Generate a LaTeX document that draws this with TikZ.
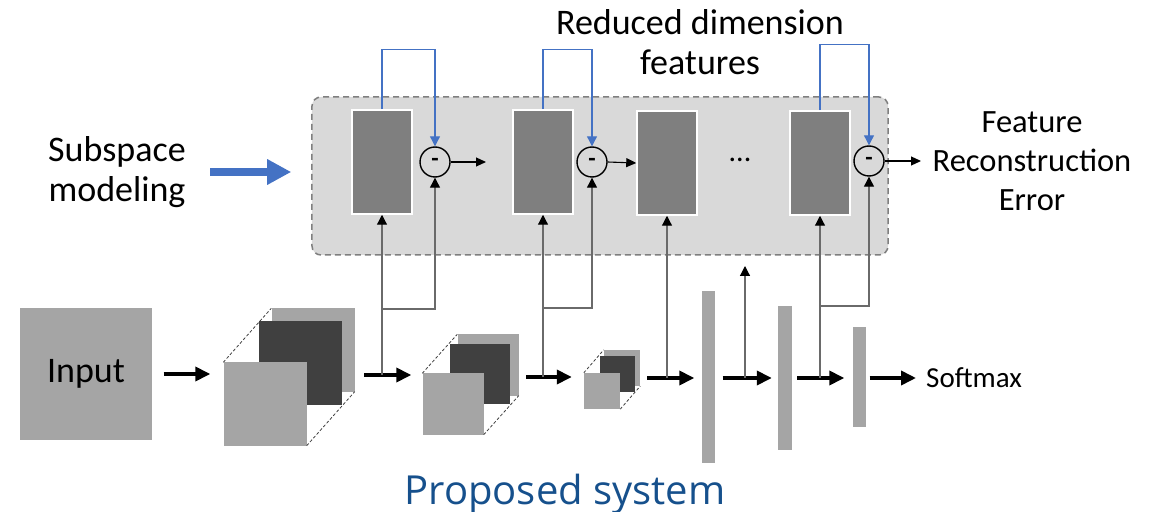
\documentclass[tikz,border=0pt]{standalone}
\usepackage{fontspec}
\setmainfont{Carlito}
\newfontfamily\captionfont{Open Sans}
\usetikzlibrary{arrows.meta}

\definecolor{panelgray}{HTML}{D9D9D9}
\definecolor{paneledge}{HTML}{7F7F7F}
\definecolor{featgray}{HTML}{7F7F7F}
\definecolor{lightsq}{HTML}{A5A5A5}
\definecolor{darksq}{HTML}{404040}
\definecolor{linkgray}{HTML}{6A6A6A}
\definecolor{fbblue}{HTML}{4472C4}
\definecolor{capblue}{HTML}{16508C}

\tikzset{
  featbox/.style={draw=white, line width=1.5bp, fill=featgray, minimum width=60bp, minimum height=104bp, inner sep=0pt},
  diffnode/.style={circle, draw=black, line width=1.4bp, minimum size=30bp, inner sep=0pt, font=\fontsize{24bp}{24bp}\selectfont\bfseries},
  lightsquare/.style={fill=lightsq, draw=none, inner sep=0pt},
  darksquare/.style={fill=darksq, draw=none, inner sep=0pt},
  barnode/.style={fill=lightsq, draw=none, inner sep=0pt, minimum width=13bp},
  cubeedge/.style={draw=darksq, dashed, dash pattern=on 3bp off 2bp, line width=0.8bp},
  bigarrow/.style={line width=3.6bp, -{Triangle[length=15bp, width=14bp]}},
  link/.style={draw=linkgray, line width=1.2bp},
  linkarrow/.style={link, -{Triangle[length=10bp, width=10bp, color=black]}},
  fbline/.style={draw=fbblue, line width=1.1bp, -{Triangle[length=10bp, width=10bp]}},
  outarrow/.style={draw=black, line width=1.1bp, -{Triangle[length=10bp, width=9bp]}},
  bigtext/.style={font=\fontsize{36bp}{40bp}\selectfont, align=center, inner sep=0pt},
  midtext/.style={font=\fontsize{32.5bp}{39bp}\selectfont, align=center, inner sep=0pt},
}

\begin{document}
\begin{tikzpicture}[x=1bp, y=-1bp]
\useasboundingbox (0,0) rectangle (1160,512);

% subspace modeling panel
\node[fill=panelgray, draw=paneledge, line width=1.5bp, dashed, dash pattern=on 6bp off 4bp,
      rounded corners=9bp, minimum width=576bp, minimum height=158bp] (panel) at (600,176) {};

% reduced-dimension feature blocks
\node[featbox] (r1) at (382,162) {};
\node[featbox] (r2) at (543,162) {};
\node[featbox] (r3) at (667,163) {};
\node[featbox] (r4) at (820,163) {};
\node[font=\fontsize{30bp}{30bp}\selectfont, inner sep=0pt] (dots) at (740,160) {...};

% subtraction nodes
\node[diffnode] (c1) at (435,162) {-};
\node[diffnode] (c2) at (592,162) {-};
\node[diffnode] (c3) at (869,161) {-};

% reconstruction feedback (blue)
\draw[fbline] (r1.north) -- ++(0,-60) -| (c1.north);
\draw[fbline] (r2.north) -- ++(0,-60) -| (c2.north);
\draw[fbline] (r4.north) -- ++(0,-66) -| (c3.north);

% outputs of the subtraction nodes
\coordinate (o1) at (486,162);
\coordinate (o3) at (921,161);
\draw[outarrow] (c1.east) -- (o1);
\draw[outarrow] (c2.east) -- (r3.west);
\draw[outarrow] (c3.east) -- (o3);

% labels
\node[bigtext] (rdf) at (700,42) {Reduced dimension\\features};
\node[bigtext] (subm) at (117,172) {Subspace\\modeling};
\node[midtext] (fre) at (1032,161) {Feature\\Reconstruction\\Error};

% blue arrow pointing at the panel
\coordinate (ba) at (210,172);
\draw[draw=fbblue, line width=7.5bp, shorten >=20bp, -{Triangle[length=24bp, width=24bp, color=fbblue]}] (ba) -- (panel.west |- ba) ;

% input image
\node[lightsquare, minimum size=131bp, font=\fontsize{36bp}{36bp}\selectfont] (in) at (86,374) {Input};

% first convolution volume
\node[lightsquare, minimum size=83bp] (b1) at (313,350) {};
\node[darksquare, minimum size=83bp] (d1) at (300,363) {};
\node[lightsquare, minimum size=83bp] (f1) at (265,404) {};
\draw[cubeedge] (f1.north west) -- (b1.north west);
\draw[cubeedge] (f1.south east) -- (b1.south east);

% second convolution volume
\node[lightsquare, minimum size=61bp] (b2) at (488,365) {};
\node[darksquare, minimum size=60bp] (d2) at (480,374) {};
\node[lightsquare, minimum size=61bp] (f2) at (453,404) {};
\draw[cubeedge] (f2.north west) -- (b2.north west);
\draw[cubeedge] (f2.south east) -- (b2.south east);

% third convolution volume
\node[lightsquare, minimum size=36bp] (b3) at (622,368) {};
\node[darksquare, minimum size=35bp] (d3) at (617,374) {};
\node[lightsquare, minimum size=36bp] (f3) at (602,391) {};
\draw[cubeedge] (f3.north west) -- (b3.north west);
\draw[cubeedge] (f3.south east) -- (b3.south east);

% fully connected layers
\node[barnode, minimum height=171bp] (fc1) at (708,377) {};
\node[barnode, minimum height=144bp, minimum width=14bp] (fc2) at (785,378) {};
\node[barnode, minimum height=100bp] (fc3) at (859,377) {};
\node[anchor=west, inner sep=0pt, font=\fontsize{29bp}{29bp}\selectfont] (sm) at (926,378) {Softmax};

% forward path
\draw[bigarrow, shorten <=12bp, shorten >=13bp] (in.east) -- (f1.west |- in.east);
\coordinate (a2) at (354,375);
\draw[bigarrow, shorten <=10bp, shorten >=11bp] (a2) -- (f2.west |- a2);
\coordinate (a3) at (519,377);
\draw[bigarrow, shorten <=7bp, shorten >=12bp] (a3) -- (f3.west |- a3);
\coordinate (a4) at (641,378);
\draw[bigarrow, shorten <=6bp, shorten >=7bp] (a4) -- (fc1.west |- a4);
\draw[bigarrow, shorten <=8bp, shorten >=6bp] (fc1.east |- a4) -- (fc2.west |- a4);
\draw[bigarrow, shorten <=5bp, shorten >=8bp] (fc2.east |- a4) -- (fc3.west |- a4);
\draw[bigarrow, shorten <=4bp, shorten >=10bp] (fc3.east |- a4) -- (sm.west |- a4);

% taps from the forward path into the panel
\coordinate (t1) at (382,375);
\coordinate (k1) at (382,309);
\draw[linkarrow] (t1) -- (r1.south);
\draw[linkarrow] (k1) -| (c1.south);

\coordinate (t2) at (543,377);
\coordinate (k2) at (543,308);
\draw[linkarrow] (t2) -- (r2.south);
\draw[linkarrow] (k2) -| (c2.south);

\coordinate (t3) at (667,378);
\draw[linkarrow] (t3) -- (r3.south);

\coordinate (t4) at (745,378);
\coordinate (e4) at (745,266);
\draw[linkarrow] (t4) -- (e4);

\coordinate (t5) at (820,378);
\coordinate (k5) at (820,306);
\draw[linkarrow] (t5) -- (r4.south);
\draw[linkarrow] (k5) -| (c3.south);

% caption
\node[anchor=base, inner sep=0pt, text=capblue, font=\captionfont\fontsize{40bp}{40bp}\selectfont] (cap) at (565,504) {Proposed system};
\end{tikzpicture}
\end{document}
